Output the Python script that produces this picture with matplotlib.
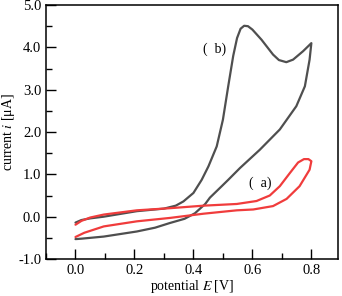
import matplotlib
matplotlib.use('Agg')
import matplotlib.pyplot as plt
from matplotlib.ticker import MultipleLocator, FormatStrFormatter

plt.rcParams['font.family'] = ['Liberation Serif', 'DejaVu Serif']
plt.rcParams['mathtext.fontset'] = 'stix'

# curve (b): forward (anodic) scan then reverse scan
b_fwd_E = [0.0, 0.02, 0.05, 0.096, 0.208, 0.30, 0.34, 0.366, 0.40, 0.428, 0.451,
           0.479, 0.50, 0.518, 0.535, 0.548, 0.56, 0.572, 0.585, 0.60, 0.631,
           0.67, 0.69, 0.715, 0.738, 0.772, 0.80]
b_fwd_i = [-0.14, -0.08, -0.04, 0.0, 0.13, 0.19, 0.26, 0.36, 0.56, 0.87, 1.19,
           1.66, 2.29, 3.08, 3.80, 4.22, 4.44, 4.51, 4.50, 4.42, 4.18,
           3.83, 3.70, 3.65, 3.71, 3.91, 4.10]
b_rev_E = [0.80, 0.794, 0.778, 0.749, 0.693, 0.625, 0.558, 0.518, 0.496, 0.456,
           0.44, 0.405, 0.37, 0.32, 0.27, 0.208, 0.096, 0.02, 0.0]
b_rev_i = [4.10, 3.71, 3.08, 2.61, 2.06, 1.58, 1.15, 0.87, 0.72, 0.45,
           0.30, 0.08, -0.05, -0.15, -0.26, -0.35, -0.47, -0.52, -0.53]

# curve (a)
a_fwd_E = [0.0, 0.02, 0.05, 0.096, 0.208, 0.32, 0.434, 0.547, 0.614, 0.659,
           0.693, 0.727, 0.755, 0.775, 0.79, 0.80]
a_fwd_i = [-0.19, -0.10, -0.02, 0.05, 0.15, 0.20, 0.26, 0.30, 0.37, 0.50,
           0.72, 1.03, 1.28, 1.36, 1.36, 1.31]
a_rev_E = [0.80, 0.794, 0.76, 0.716, 0.67, 0.603, 0.547, 0.434, 0.32, 0.208,
           0.096, 0.03, 0.0]
a_rev_i = [1.31, 1.11, 0.72, 0.42, 0.25, 0.17, 0.15, 0.07, -0.03, -0.11,
           -0.23, -0.38, -0.48]

gray = '#4f4f4f'
red = '#f03c3c'

fig = plt.figure(figsize=(3.42, 2.96), dpi=100)
ax = fig.add_axes([0.1345, 0.125, 0.8535, 0.858])

ax.plot(b_fwd_E + b_rev_E, b_fwd_i + b_rev_i, color=gray, lw=1.6,
        solid_joinstyle='round', solid_capstyle='round')
ax.plot(a_fwd_E + a_rev_E, a_fwd_i + a_rev_i, color=red, lw=1.6,
        solid_joinstyle='round', solid_capstyle='round')

ax.text(0.473, 3.95, '(  b)', fontsize=10, ha='center', va='center')
ax.text(0.625, 0.80, '(  a)', fontsize=10, ha='center', va='center')

ax.set_xlim(-0.1, 0.89)
ax.set_ylim(-1.0, 5.0)
ax.xaxis.set_major_locator(MultipleLocator(0.2))
ax.xaxis.set_minor_locator(MultipleLocator(0.1))
ax.yaxis.set_major_locator(MultipleLocator(1.0))
ax.yaxis.set_minor_locator(MultipleLocator(0.5))
ax.xaxis.set_major_formatter(FormatStrFormatter('%.1f'))
ax.yaxis.set_major_formatter(FormatStrFormatter('%.1f'))
ax.tick_params(which='major', direction='in', length=7, width=1.0, labelsize=10.5)
ax.tick_params(which='minor', direction='in', length=4, width=1.0)
for s in ax.spines.values():
    s.set_linewidth(1.1)

ax.set_xlabel('potential $E$ [V]', fontsize=10)
ax.set_ylabel('current $i$ [μA]', fontsize=10)
ax.xaxis.set_label_coords(0.5, -0.075)
ax.yaxis.set_label_coords(-0.098, 0.5)

fig.savefig('out.png', dpi=100)
